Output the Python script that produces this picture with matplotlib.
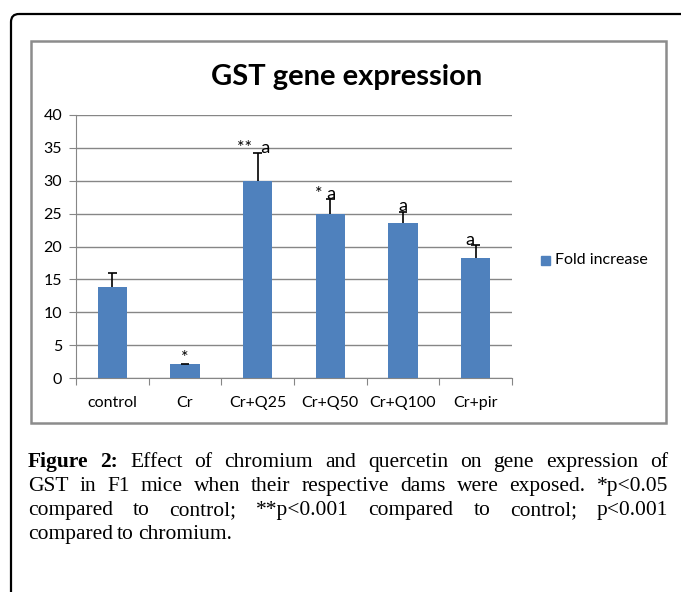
import numpy as np
import matplotlib
matplotlib.use("Agg")
import matplotlib.pyplot as plt
from matplotlib.patches import FancyBboxPatch, Rectangle

W, H = 681, 592

categories = ["control", "Cr", "Cr+Q25", "Cr+Q50", "Cr+Q100", "Cr+pir"]
fold_increase = [13.8, 2.1, 30.0, 25.0, 23.5, 18.2]
err_upper = [2.2, 0.05, 4.2, 2.2, 1.8, 2.0]
marks = ["", "*", "**  a", "* a", "a", "a"]
mark_dx = [0, 0, -0.06, -0.06, 0, -0.08]

title = "GST gene expression"
legend_label = "Fold increase"
caption_lines = [
    [("Figure", True), ("2:", True), ("Effect", False), ("of", False), ("chromium", False),
     ("and", False), ("quercetin", False), ("on", False), ("gene", False),
     ("expression", False), ("of", False)],
    "GST in F1 mice when their respective dams were exposed. *p<0.05",
    "compared to control; **p<0.001 compared to control; p<0.001",
    "compared to chromium.",
]

bar_color = "#4F81BD"
grid_color = "#868686"


def px(x0, y0, w, h):
    return [x0 / W, 1 - (y0 + h) / H, w / W, h / H]


fig = plt.figure(figsize=(W / 100, H / 100), dpi=100)

# outer page border and chart frame
bg = fig.add_axes([0, 0, 1, 1])
bg.set_xlim(0, W)
bg.set_ylim(H, 0)
bg.axis("off")
bg.add_patch(FancyBboxPatch((11, 14), 700, 700, boxstyle="round,pad=0,rounding_size=8",
                            fill=False, ec="black", lw=1.6))
bg.add_patch(Rectangle((31, 41), 635, 382, fill=False, ec="#8c8c8c", lw=1.8))

ax = fig.add_axes(px(76, 115, 436, 263))
x = np.arange(len(categories))
tops = np.array(fold_increase) + np.array(err_upper)
ax.bar(x, fold_increase, width=0.4, color=bar_color, zorder=3)
ax.vlines(x, fold_increase, tops, color="black", lw=1.2, zorder=4)
ax.hlines(tops, x - 0.06, x + 0.06, color="black", lw=1.2, zorder=4)
for i, m in enumerate(marks):
    if m:
        ax.text(i + mark_dx[i], tops[i] - 0.4, m, ha="center", va="bottom",
                fontsize=13, family="Lato", zorder=5)

ax.set_xlim(-0.5, len(categories) - 0.5)
ax.set_ylim(0, 40)
ax.set_yticks(np.arange(0, 41, 5))
ax.yaxis.grid(True, color=grid_color, lw=1.0, zorder=0)
ax.set_xticks(np.arange(-0.5, len(categories), 1))
ax.set_xticklabels([])
ax.set_xticks(x, minor=True)
ax.set_xticklabels(categories, minor=True)
ax.tick_params(axis="x", which="minor", length=0, pad=13, labelsize=11.5)
ax.tick_params(axis="x", which="major", length=5, color=grid_color, direction="out")
ax.tick_params(axis="y", length=5, color=grid_color, labelsize=11.5, pad=5)
for lab in ax.get_xticklabels(minor=True) + ax.get_yticklabels():
    lab.set_family("Lato")
for s in ["top", "right"]:
    ax.spines[s].set_visible(False)
for s in ["left", "bottom"]:
    ax.spines[s].set_color(grid_color)

fig.text(347 / W, 1 - 77 / H, title, ha="center", va="center", fontsize=21,
         fontweight="bold", family="Lato")

# legend
fig.patches.append(Rectangle((541 / W, 1 - 265 / H), 9 / W, 9 / H, color=bar_color,
                             transform=fig.transFigure, figure=fig))
fig.text(555 / W, 1 - 260 / H, legend_label, ha="left", va="center", fontsize=11.5,
         family="Lato")

# caption, justified
renderer = fig.canvas.get_renderer()
left, right = 28, 668
y0, dy = 467, 24
for li, line in enumerate(caption_lines):
    words = line if isinstance(line, list) else [(w, False) for w in line.split()]
    ys = 1 - (y0 + li * dy) / H
    texts = []
    for w, b in words:
        t = fig.text(0, ys, w, ha="left", va="baseline", fontsize=15.5,
                     family="Liberation Serif", fontweight="bold" if b else "normal")
        texts.append(t)
    widths = [t.get_window_extent(renderer).width for t in texts]
    last = li == len(caption_lines) - 1
    gap = 4 if last else (right - left - sum(widths)) / (len(words) - 1)
    xx = left
    for t, wd in zip(texts, widths):
        t.set_x(xx / W)
        xx += wd + gap

fig.savefig("out.png", dpi=100)
